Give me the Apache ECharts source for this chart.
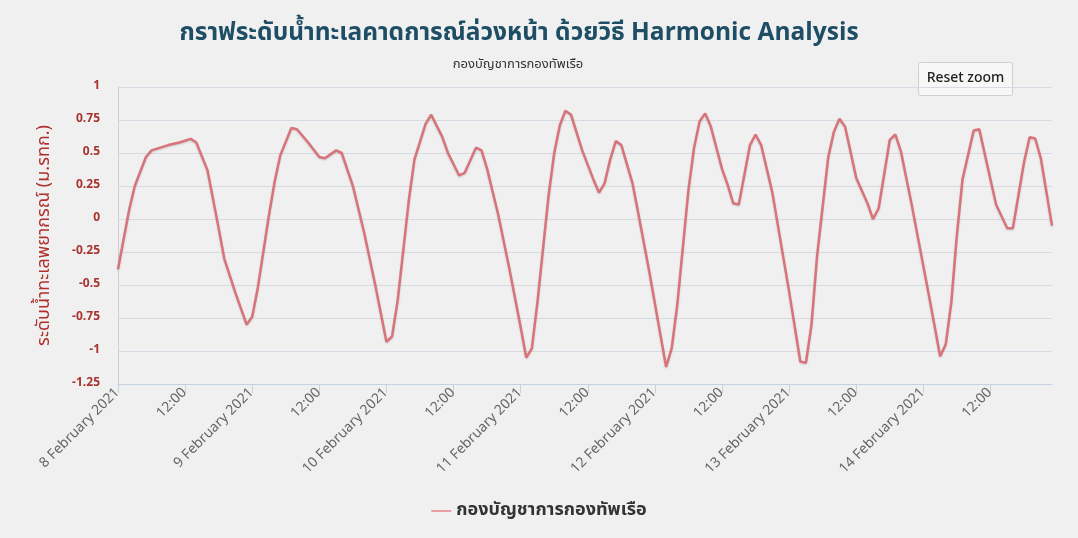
<!DOCTYPE html>
<html>
<head>
<meta charset="utf-8">
<script src="https://cdn.jsdelivr.net/npm/echarts@6/dist/echarts.min.js"></script>
<style>
html,body{margin:0;padding:0;background:#fff;}
#c{width:1078px;height:538px;}
</style>
</head>
<body>
<div id="c"></div>
<script>
// Hours after 8 February 2021 00:00
const hours = [0,2,3,5,6,9,11,13,14,16,18,19,21,23,24,25,27,28,29,31,32,34,36,37,39,40,42,44,46,48,49,50,52,53,55,56,58,59,61,62,64,65,66,68,70,72,73,74,75,77,78,79,80,81,83,85,86,87,88,89,90,92,93,95,97,98,99,100,102,103,104,105,106,108,109,110,111,113,114,115,117,120,122,123,124,125,127,128,129,130,132,134,135,136,138,139,140,142,145,147,148,149,150,151,153,154,156,157,159,160,162,163,164,165,167];
// Predicted sea level (m. MSL)
const levels = [-0.38,0.07,0.25,0.47,0.52,0.56,0.58,0.607,0.58,0.37,-0.07,-0.3,-0.56,-0.80,-0.74,-0.52,0.03,0.28,0.48,0.69,0.68,0.58,0.47,0.46,0.52,0.50,0.25,-0.1,-0.50,-0.93,-0.89,-0.62,0.14,0.45,0.72,0.79,0.62,0.50,0.33,0.35,0.54,0.52,0.38,0.03,-0.38,-0.82,-1.05,-0.98,-0.63,0.18,0.50,0.71,0.82,0.79,0.52,0.30,0.20,0.27,0.45,0.59,0.56,0.27,0.05,-0.40,-0.88,-1.12,-0.98,-0.65,0.22,0.54,0.74,0.80,0.70,0.38,0.26,0.12,0.11,0.56,0.64,0.56,0.20,-0.55,-1.08,-1.09,-0.80,-0.28,0.47,0.66,0.76,0.70,0.31,0.12,0.0,0.08,0.60,0.64,0.51,0.09,-0.58,-1.04,-0.95,-0.63,-0.12,0.30,0.67,0.68,0.30,0.11,-0.07,-0.07,0.43,0.62,0.61,0.46,-0.05];
const tickHours = [0,12,24,36,48,60,72,84,96,108,120,132,144,156];
const tickLabels = ['8 February 2021','12:00','9 February 2021','12:00','10 February 2021','12:00','11 February 2021','12:00','12 February 2021','12:00','13 February 2021','12:00','14 February 2021','12:00'];
const seriesName = 'กองบัญชาการกองทัพเรือ';
const titleText = 'กราฟระดับน้ำทะเลคาดการณ์ล่วงหน้า ด้วยวิธี Harmonic Analysis';
const subTitleText = 'กองบัญชาการกองทัพเรือ';
const yAxisName = 'ระดับน้ำทะเลพยากรณ์ (ม.รทก.)';

const FONT = "'Noto Sans Thai','Tahoma','Noto Sans','DejaVu Sans',sans-serif";
const data = hours.map((h, i) => [h, levels[i]]);

const chart = echarts.init(document.getElementById('c'), null, {renderer: 'canvas'});
chart.setOption({
  backgroundColor: '#f0f0f0',
  animation: false,
  textStyle: {fontFamily: FONT},
  title: [{
    text: titleText,
    left: 514, top: 18, textAlign: 'center',
    textStyle: {fontSize: 24.5, fontWeight: 'bold', color: '#1d4e66', fontFamily: FONT}
  }, {
    text: subTitleText,
    left: 513, top: 54, textAlign: 'center',
    textStyle: {fontSize: 13, fontWeight: 'normal', color: '#333', fontFamily: FONT}
  }],
  grid: {left: 118, right: 26, top: 87, bottom: 154, containLabel: false},
  legend: {
    bottom: 13, left: 'center',
    icon: 'rect', itemWidth: 20, itemHeight: 2, itemGap: 8,
    textStyle: {fontSize: 18, fontWeight: 'bold', color: '#333', fontFamily: FONT},
    data: [seriesName]
  },
  xAxis: {
    type: 'value', min: 0, max: 167,
    axisLine: {show: true, onZero: false, lineStyle: {color: '#c6d2e0', width: 1}},
    axisTick: {show: true, customValues: tickHours, length: 9, lineStyle: {color: '#c6d2e0'}},
    axisLabel: {
      customValues: tickHours,
      rotate: 45, color: '#666', fontSize: 14, fontFamily: FONT, margin: 7,
      formatter: v => tickLabels[tickHours.indexOf(v)] || ''
    },
    splitLine: {show: false}
  },
  yAxis: {
    type: 'value', min: -1.25, max: 1, interval: 0.25,
    name: yAxisName, nameLocation: 'middle', nameGap: 64,
    nameTextStyle: {color: '#b0302c', fontSize: 18, fontFamily: FONT},
    axisLine: {show: true, lineStyle: {color: '#ccd0d6'}},
    axisTick: {show: false},
    axisLabel: {color: '#a8322e', fontSize: 12, fontWeight: 'bold', margin: 18, fontFamily: FONT},
    splitLine: {lineStyle: {color: '#d6dae2', width: 1}}
  },
  series: [{
    name: seriesName, type: 'line', data: data,
    showSymbol: false, symbol: 'none', smooth: false,
    lineStyle: {color: '#d8737a', width: 2.5, shadowColor: 'rgba(0,0,0,0.15)', shadowBlur: 2, shadowOffsetY: 1},
    itemStyle: {color: '#e8a0a4'}
  }],
  graphic: [{
    type: 'group', left: 918, top: 62,
    children: [{
      type: 'rect', shape: {x: 0, y: 0, width: 94, height: 33, r: 2},
      style: {fill: '#f7f7f7', stroke: '#cfcfcf', lineWidth: 1}
    }, {
      type: 'text', x: 47, y: 16.5,
      style: {text: 'Reset zoom', fill: '#222', fontSize: 14, fontWeight: 500, fontFamily: FONT, align: 'center', verticalAlign: 'middle'}
    }]
  }]
});
</script>
</body>
</html>
